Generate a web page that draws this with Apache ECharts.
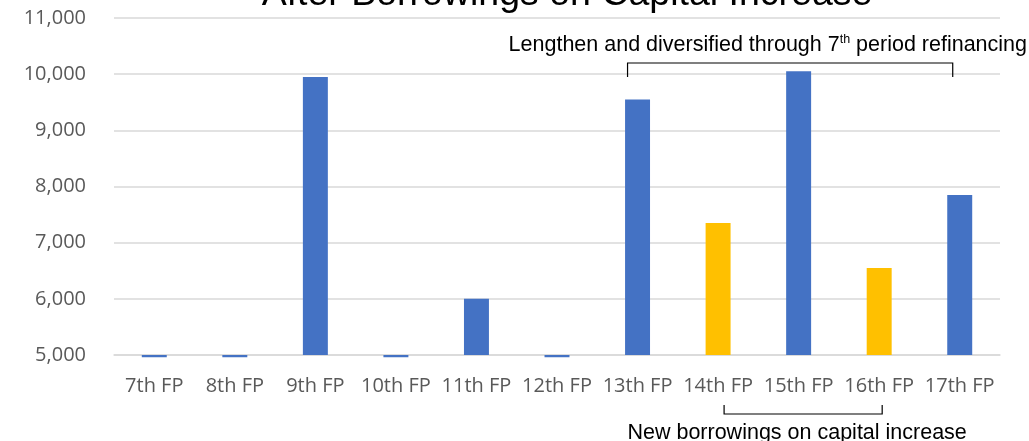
<!DOCTYPE html>
<html>
<head>
<meta charset="utf-8">
<script src="https://cdn.jsdelivr.net/npm/echarts@6/dist/echarts.min.js"></script>
<style>
html,body{margin:0;padding:0;background:#fff;}
#chart{width:1029px;height:441px;}
</style>
</head>
<body>
<div id="chart"></div>
<script>
const categories = ['7th FP','8th FP','9th FP','10th FP','11th FP','12th FP','13th FP','14th FP','15th FP','16th FP','17th FP'];
const borrowings = [4960, 4960, 9950, 4960, 6000, 4960, 9550, 7350, 10050, 6550, 7850];
const newBorrowingPeriods = ['14th FP','16th FP'];
const yTicks = { min: 5000, max: 11000, interval: 1000 };
const titleText = 'After Borrowings on Capital Increase';
const refinanceRange = ['13th FP','17th FP'];
const newBorrowRange = ['14th FP','16th FP'];

const chart = echarts.init(document.getElementById('chart'), null, {renderer:'canvas'});
const BLUE = '#4472C4', GOLD = '#FFC000';
const base = yTicks.min;
chart.setOption({
  animation: false,
  grid: { left: 114, right: 29, top: 18, bottom: 86, containLabel: false },
  xAxis: {
    type: 'category', data: categories,
    axisLine: { show: true, lineStyle: { color: '#D9D9D9', width: 1.5 } },
    axisTick: { show: false },
    axisLabel: { color: '#595959', fontSize: 20, fontFamily: 'Open Sans', margin: 21, interval: 0 }
  },
  yAxis: {
    type: 'value', min: yTicks.min, max: yTicks.max, interval: yTicks.interval,
    axisLine: { show: false }, axisTick: { show: false },
    splitLine: { lineStyle: { color: '#D9D9D9', width: 1.5 } },
    axisLabel: { color: '#595959', fontSize: 20, fontFamily: 'Open Sans', margin: 28,
      formatter: v => v.toLocaleString('en-US') }
  },
  series: [
    { type: 'bar', stack: 'b', stackStrategy: 'all', barWidth: '31%', silent: true,
      itemStyle: { color: 'rgba(0,0,0,0)' },
      data: borrowings.map(() => base) },
    { type: 'bar', stack: 'b', stackStrategy: 'all', clip: false, barWidth: '31%',
      data: borrowings.map((v, i) => ({ value: v - base,
        itemStyle: { color: newBorrowingPeriods.includes(categories[i]) ? GOLD : BLUE } })) }
  ]
});

function px(cat){ return chart.convertToPixel({xAxisIndex:0}, cat); }
const l1 = px(refinanceRange[0]) - 10, r1 = px(refinanceRange[1]) - 7;
const l2 = px(newBorrowRange[0]) + 6, r2 = px(newBorrowRange[1]) + 3;
chart.setOption({
  graphic: [
    { type: 'text', x: 567, y: 14, style: { text: titleText, font: '37.5px "Liberation Sans", Arial', fill: '#000', align: 'center', verticalAlign: 'bottom' } },
    { type: 'text', x: 1027, y: 45, style: {
        text: '{a|Lengthen and diversified through 7}{s|th}{a| period refinancing}',
        align: 'right', verticalAlign: 'middle',
        rich: {
          a: { fontFamily: '"Liberation Sans", Arial', fontSize: 21.5, fill: '#000', lineHeight: 24, verticalAlign: 'middle' },
          s: { fontFamily: '"Liberation Sans", Arial', fontSize: 12.5, fill: '#000', lineHeight: 24, verticalAlign: 'top', padding: [0,0,8,0] }
        } } },
    { type: 'polyline', shape: { points: [[l1, 77],[l1, 63],[r1, 63],[r1, 77]] }, style: { stroke: '#000', lineWidth: 1.2, fill: null } },
    { type: 'polyline', shape: { points: [[l2, 405],[l2, 414],[r2, 414],[r2, 405]] }, style: { stroke: '#000', lineWidth: 1.2, fill: null } },
    { type: 'text', x: (l2 + r2) / 2 - 6, y: 433, style: { text: 'New borrowings on capital increase', font: '21.5px "Liberation Sans", Arial', fill: '#000', align: 'center', verticalAlign: 'middle' } }
  ]
});
</script>
</body>
</html>
